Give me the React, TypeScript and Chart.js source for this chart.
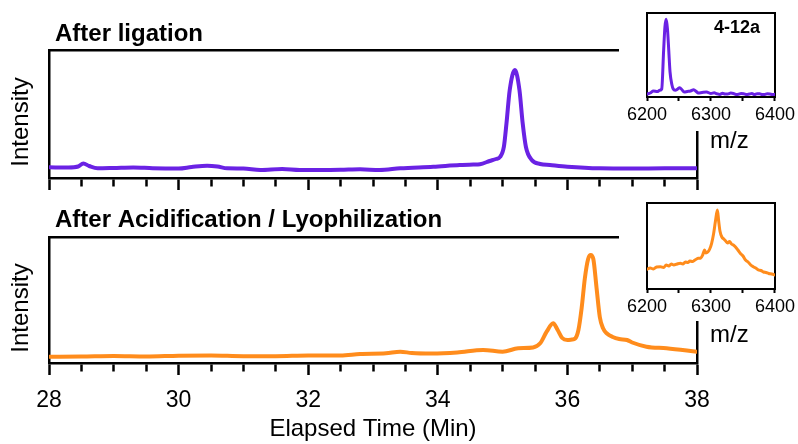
import React, { useEffect, useRef } from 'react';
import { Chart, registerables } from 'chart.js';

Chart.register(...registerables);

const FONT = '"Liberation Sans", Arial, Helvetica, sans-serif';
const PURPLE = '#6a22e4';
const ORANGE = '#ff8c1c';

// ---- Chromatogram: after ligation (time in min, relative intensity) ----
const ligationTime = [28.0, 28.3, 28.45, 28.53, 28.62, 28.75, 29.0, 29.3, 29.6, 30.0, 30.2, 30.44, 30.6, 30.75, 31.0, 31.26, 31.6, 31.87, 32.2, 32.5, 32.8, 33.1, 33.42, 33.93, 34.34, 34.55, 34.65, 34.8, 34.9, 34.96, 35.02, 35.06, 35.11, 35.19, 35.26, 35.31, 35.36, 35.45, 35.58, 35.73, 36.0, 36.5, 37.0, 37.5, 38.0];
const ligationIntensity = [10.7, 10.5, 11.5, 14.5, 12, 9.7, 10, 10.5, 9.8, 9.5, 11, 12.3, 11.5, 9.7, 9.5, 8, 9, 8, 8, 8.2, 8.7, 8, 9.7, 11.3, 13, 13.5, 13.8, 17, 19, 21, 31.3, 54.7, 88, 108, 88, 54.7, 31, 18, 14, 13, 11.3, 9.7, 9.5, 9.7, 9.7];

// ---- Chromatogram: after acidification / lyophilization ----
const acidTime = [28.0, 28.5, 29.0, 29.5, 30.0, 30.5, 31.0, 31.5, 32.0, 32.5, 32.8, 33.2, 33.42, 33.6, 33.9, 34.3, 34.7, 35.0, 35.24, 35.47, 35.58, 35.68, 35.78, 35.85, 35.92, 36.0, 36.07, 36.12, 36.17, 36.22, 36.27, 36.32, 36.36, 36.4, 36.45, 36.5, 36.55, 36.61, 36.7, 36.8, 36.92, 37.0, 37.22, 37.53, 38.0];
const acidIntensity = [6.3, 6.5, 7, 6.5, 7.3, 7.5, 6.8, 6.8, 7.5, 7.5, 9, 9.7, 11.3, 10, 9.5, 10.5, 13, 11.3, 14.7, 15.5, 19.7, 31.3, 39.7, 33, 25, 23, 23.5, 24.5, 33, 55, 85, 104, 108, 104, 75, 46, 34.7, 29.5, 26, 24, 23, 20.5, 16.3, 14.7, 11.3];

// ---- Inset mass spectra (m/z) ----
const insetLigationMz = [6200, 6205, 6210, 6216, 6220, 6223, 6226, 6228, 6230, 6232, 6234, 6236, 6239, 6241, 6244, 6248, 6251, 6255, 6258, 6263, 6268, 6273, 6277, 6280, 6286, 6293, 6300, 6305, 6309, 6314, 6318, 6322, 6326, 6331, 6335, 6339, 6343, 6347, 6351, 6356, 6360, 6364, 6368, 6372, 6376, 6380, 6384, 6388, 6392, 6396, 6400];
const insetLigationIntensity = [3, 4, 6, 5.5, 6.7, 8, 46.7, 70, 77.7, 68, 46.7, 25, 12, 8, 6.7, 8, 9.3, 7, 5, 5.5, 6, 7.3, 5.5, 4, 4.5, 5, 3.5, 4.2, 3.3, 2.6, 3.8, 2.9, 3, 3.9, 3.5, 2.6, 2.8, 3.6, 3.3, 2.5, 3, 3.4, 2.5, 3.3, 3.2, 2.4, 2.6, 3.3, 3, 2.4, 2.7];
const insetAcidMz = [6200, 6205, 6210, 6215, 6221, 6226, 6230, 6234, 6238, 6242, 6247, 6252, 6256, 6260, 6264, 6267, 6271, 6275, 6280, 6284, 6287, 6290, 6292, 6295, 6298, 6301, 6304, 6307, 6310, 6312, 6314, 6317, 6320, 6323, 6326, 6329, 6332, 6335, 6338, 6342, 6346, 6350, 6354, 6358, 6362, 6366, 6370, 6374, 6378, 6382, 6386, 6390, 6395, 6400];
const insetAcidIntensity = [19.7, 21, 20, 22, 22.3, 21.5, 24, 23, 25, 24, 25, 25.7, 25, 27, 26.5, 28, 27.5, 29, 30.7, 31, 34, 39, 36, 37, 40, 45.7, 55, 68, 79, 68, 58, 52, 50, 48, 46, 47.5, 45, 44, 42.3, 39, 35.5, 33, 29, 27, 24, 22.3, 21, 19, 18.5, 17, 16.5, 15.5, 15, 14];

// ---- Axis ticks ----
const timeRange = [28, 38];
const timeStep = 0.5;
const timeLabelEvery = 2;
const mzRange = [6200, 6400];
const mzStep = 50;
const mzLabelEvery = 100;

type TextItem = {
  text: string;
  font: string;
  ax: 'left' | 'right';
  ay: 'top' | 'bottom' | 'middle';
  dx: number;
  dy: number;
  align?: CanvasTextAlign;
  baseline?: CanvasTextBaseline;
  rotate?: number;
};

function textPlugin(items: TextItem[]) {
  return {
    id: 'panelText',
    afterDraw(chart: any) {
      const { ctx, chartArea } = chart;
      items.forEach((it) => {
        ctx.save();
        ctx.font = it.font;
        ctx.fillStyle = '#000';
        ctx.textAlign = it.align || 'left';
        ctx.textBaseline = it.baseline || 'alphabetic';
        const x = (it.ax === 'right' ? chartArea.right : chartArea.left) + it.dx;
        const y =
          (it.ay === 'bottom'
            ? chartArea.bottom
            : it.ay === 'middle'
            ? (chartArea.top + chartArea.bottom) / 2
            : chartArea.top) + it.dy;
        ctx.translate(x, y);
        if (it.rotate) ctx.rotate(it.rotate);
        ctx.fillText(it.text, 0, 0);
        ctx.restore();
      });
    },
  };
}

const whiteBg = {
  id: 'whiteBg',
  beforeDraw(chart: any) {
    const { ctx, width, height } = chart;
    ctx.save();
    ctx.fillStyle = '#fff';
    ctx.fillRect(0, 0, width, height);
    ctx.restore();
  },
};

type PanelSpec = {
  xs: number[];
  ys: number[];
  color: string;
  lineWidth: number;
  xRange: number[];
  step: number;
  labelEvery: number;
  yMax: number;
  leftW: number;
  rightW: number;
  topH: number;
  bottomH: number;
  showLabels: boolean;
  tickFont: number;
  tickPad: number;
  tickLen: number;
  minorLen: number;
  axisW: number;
  xTitle?: string;
  texts: TextItem[];
  background?: boolean;
};

function buildConfig(p: PanelSpec): any {
  const edge = (w: number) => ({ display: true, color: '#000', width: w });
  return {
    type: 'line',
    data: {
      datasets: [
        {
          data: p.xs.map((x, i) => ({ x, y: p.ys[i] })),
          borderColor: p.color,
          borderWidth: p.lineWidth,
          pointRadius: 0,
          fill: false,
          cubicInterpolationMode: 'monotone',
          borderJoinStyle: 'round',
          borderCapStyle: 'round',
        },
      ],
    },
    options: {
      responsive: false,
      animation: false,
      events: [],
      layout: { padding: 0 },
      plugins: { legend: { display: false }, tooltip: { enabled: false }, title: { display: false } },
      scales: {
        x: {
          type: 'linear',
          position: 'bottom',
          min: p.xRange[0],
          max: p.xRange[1],
          afterFit: (s: any) => {
            s.height = p.bottomH;
          },
          ticks: {
            display: p.showLabels,
            stepSize: p.step,
            autoSkip: false,
            maxRotation: 0,
            padding: p.tickPad,
            color: '#000',
            font: { family: FONT, size: p.tickFont },
            callback: (v: number) => (Math.abs(v % p.labelEvery) < 1e-9 ? String(v) : ''),
          },
          grid: {
            drawOnChartArea: false,
            drawTicks: true,
            tickLength: p.tickLen,
            tickWidth: p.axisW,
            tickColor: '#000',
            tickBorderDash: (c: any) =>
              c.tick && Math.abs(c.tick.value % p.labelEvery) > 1e-9 ? [p.minorLen, 60] : [],
          },
          border: edge(p.axisW),
          title: p.xTitle
            ? {
                display: true,
                text: p.xTitle,
                color: '#000',
                font: { family: FONT, size: 24 },
                padding: { top: 0, bottom: 0 },
              }
            : { display: false },
        },
        y: {
          type: 'linear',
          position: 'left',
          min: 0,
          max: p.yMax,
          afterFit: (s: any) => {
            s.width = p.leftW;
          },
          ticks: { display: false },
          grid: { drawOnChartArea: false, drawTicks: false },
          border: edge(p.axisW),
        },
        x2: {
          type: 'linear',
          position: 'top',
          min: 0,
          max: 1,
          afterFit: (s: any) => {
            s.height = p.topH;
          },
          ticks: { display: false },
          grid: { drawOnChartArea: false, drawTicks: false },
          border: edge(p.axisW),
        },
        y2: {
          type: 'linear',
          position: 'right',
          min: 0,
          max: 1,
          afterFit: (s: any) => {
            s.width = p.rightW;
          },
          ticks: { display: false },
          grid: { drawOnChartArea: false, drawTicks: false },
          border: edge(p.axisW),
        },
      },
    },
    plugins: p.background ? [whiteBg, textPlugin(p.texts)] : [textPlugin(p.texts)],
  };
}

function Panel({ left, top, width, height, spec }: { left: number; top: number; width: number; height: number; spec: PanelSpec }) {
  const ref = useRef<HTMLCanvasElement>(null);
  useEffect(() => {
    const chart = new Chart(ref.current as HTMLCanvasElement, buildConfig(spec));
    return () => chart.destroy();
  }, []);
  return (
    <canvas
      ref={ref}
      width={width}
      height={height}
      style={{ position: 'absolute', left, top, width, height, display: 'block' }}
    />
  );
}

const HEAD = `bold 24px ${FONT}`;
const AXT = `24px ${FONT}`;

const topMain: PanelSpec = {
  xs: ligationTime,
  ys: ligationIntensity,
  color: PURPLE,
  lineWidth: 4,
  xRange: timeRange,
  step: timeStep,
  labelEvery: timeLabelEvery,
  yMax: 128,
  leftW: 49,
  rightW: 101,
  topH: 50,
  bottomH: 22,
  showLabels: false,
  tickFont: 22,
  tickPad: 10,
  tickLen: 12,
  minorLen: 7,
  axisW: 2.5,
  texts: [
    { text: 'After ligation', font: HEAD, ax: 'left', ay: 'top', dx: 6, dy: -9 },
    { text: 'Intensity', font: AXT, ax: 'left', ay: 'middle', dx: -28, dy: 8, align: 'center', baseline: 'middle', rotate: -Math.PI / 2 },
    { text: 'm/z', font: AXT, ax: 'right', ay: 'bottom', dx: 13, dy: -30 },
  ],
};

const bottomMain: PanelSpec = {
  xs: acidTime,
  ys: acidIntensity,
  color: ORANGE,
  lineWidth: 4,
  xRange: timeRange,
  step: timeStep,
  labelEvery: timeLabelEvery,
  yMax: 126,
  leftW: 49,
  rightW: 101,
  topH: 37,
  bottomH: 81,
  showLabels: true,
  tickFont: 23,
  tickPad: 12,
  tickLen: 12,
  minorLen: 7,
  axisW: 2.5,
  xTitle: 'Elapsed Time (Min)',
  texts: [
    { text: 'After Acidification / Lyophilization', font: HEAD, ax: 'left', ay: 'top', dx: 6, dy: -10 },
    { text: 'Intensity', font: AXT, ax: 'left', ay: 'middle', dx: -28, dy: 8, align: 'center', baseline: 'middle', rotate: -Math.PI / 2 },
    { text: 'm/z', font: AXT, ax: 'right', ay: 'bottom', dx: 13, dy: -21 },
  ],
};

const topInset: PanelSpec = {
  xs: insetLigationMz,
  ys: insetLigationIntensity,
  color: PURPLE,
  lineWidth: 3,
  xRange: mzRange,
  step: mzStep,
  labelEvery: mzLabelEvery,
  yMax: 84,
  leftW: 28,
  rightW: 23,
  topH: 13,
  bottomH: 34,
  showLabels: true,
  tickFont: 18,
  tickPad: 3,
  tickLen: 4,
  minorLen: 4,
  axisW: 2,
  background: true,
  texts: [{ text: '4-12a', font: `bold 18px ${FONT}`, ax: 'right', ay: 'top', dx: -15, dy: 20, align: 'right' }],
};

const bottomInset: PanelSpec = {
  xs: insetAcidMz,
  ys: insetAcidIntensity,
  color: ORANGE,
  lineWidth: 3,
  xRange: mzRange,
  step: mzStep,
  labelEvery: mzLabelEvery,
  yMax: 86,
  leftW: 28,
  rightW: 23,
  topH: 8,
  bottomH: 32,
  showLabels: true,
  tickFont: 18,
  tickPad: 3,
  tickLen: 4,
  minorLen: 4,
  axisW: 2,
  background: true,
  texts: [],
};

export default function App() {
  return (
    <div style={{ position: 'absolute', left: 0, top: 0, width: 798, height: 444, background: '#fff', overflow: 'hidden' }}>
      <Panel left={0} top={0} width={798} height={200} spec={topMain} />
      <Panel left={0} top={200} width={798} height={244} spec={bottomMain} />
      <Panel left={619} top={0} width={179} height={131} spec={topInset} />
      <Panel left={619} top={195} width={179} height={126} spec={bottomInset} />
    </div>
  );
}
